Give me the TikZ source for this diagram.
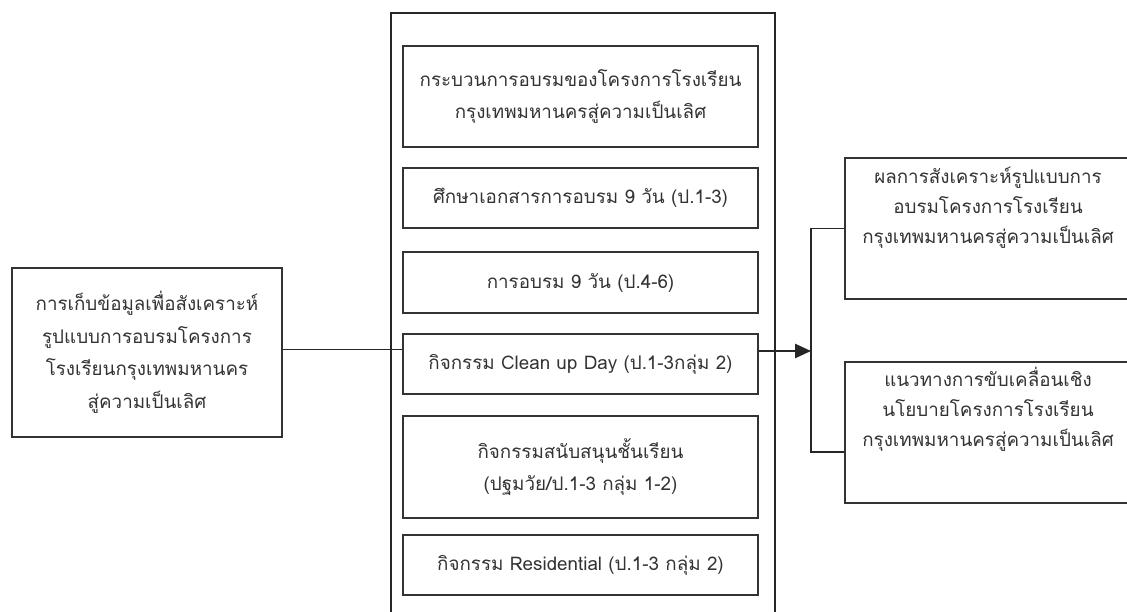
\documentclass[tikz,border=0pt]{standalone}
\usepackage{fontspec}
\newfontfamily\thaifont[Script=Thai]{Loma}
\usepackage{tikz}
\usetikzlibrary{arrows.meta}

\begin{document}
\begin{tikzpicture}[x=0.02cm,y=-0.02cm,
    box/.style={draw=black!80,line width=1.1pt,align=center,inner sep=2pt,
      text=black!80,font=\thaifont\fontsize{10.7}{18.5}\selectfont},
    actbox/.style={box,minimum width=7.1cm},
    resbox/.style={box,minimum width=5.7cm,minimum height=2.82cm},
    restext/.style={align=center,text=black!80,font=\thaifont\fontsize{10.7}{17}\selectfont},
    link/.style={draw=black!85,line width=1.1pt}]
  \useasboundingbox (0,0) rectangle (1127,612);
  \clip (0,0) rectangle (1127,612);

  % outer frame (runs off the bottom)
  \draw[link] (391,650) -- (391,13) -- (775,13) -- (775,650);

  \node[box,minimum width=5.4cm,minimum height=3.38cm] (collect) at (147,352.5)
    {การเก็บข้อมูลเพื่อสังเคราะห์\\รูปแบบการอบรมโครงการ\\โรงเรียนกรุงเทพมหานคร\\สู่ความเป็นเลิศ};

  \node[actbox,minimum height=2.02cm] (act1) at (580.5,96.5)
    {กระบวนการอบรมของโครงการโรงเรียน\\กรุงเทพมหานครสู่ความเป็นเลิศ};
  \node[actbox,minimum height=1.2cm] (act2) at (580.5,198)
    {ศึกษาเอกสารการอบรม 9 วัน (ป.1-3)};
  \node[actbox,minimum height=1.22cm] (act3) at (580.5,282.5)
    {การอบรม 9 วัน (ป.4-6)};
  \node[actbox,minimum height=1.2cm] (act4) at (580.5,364)
    {กิจกรรม Clean up Day (ป.1-3กลุ่ม 2)};
  \node[actbox,minimum height=2.04cm] (act5) at (580.5,467)
    {กิจกรรมสนับสนุนชั้นเรียน\\(ปฐมวัย/ป.1-3 กลุ่ม 1-2)};
  \node[actbox,minimum height=1.2cm] (act6) at (580.5,565)
    {กิจกรรม Residential (ป.1-3 กลุ่ม 2)};

  % result boxes, text sits high in the box
  \node[resbox] (res1) at (987.5,228.5) {};
  \node[restext] (res1text) at (988,208)
    {ผลการสังเคราะห์รูปแบบการ\\อบรมโครงการโรงเรียน\\กรุงเทพมหานครสู่ความเป็นเลิศ};
  \node[resbox] (res2) at (987.5,432.5) {};
  \node[restext] (res2text) at (988,409)
    {แนวทางการขับเคลื่อนเชิง\\นโยบายโครงการโรงเรียน\\กรุงเทพมหานครสู่ความเป็นเลิศ};

  \coordinate (junc) at (811,351);

  \draw[link] ([yshift=0.06cm]collect.east) -- ([yshift=0.06cm]collect.east -| act4.west);
  \draw[link,-{Triangle[length=9pt,width=8pt]}] (act4.east |- junc) -- (junc);
  \draw[link] (res1.west) -| (junc) |- ([yshift=-0.39cm]res2.west);
\end{tikzpicture}
\end{document}
